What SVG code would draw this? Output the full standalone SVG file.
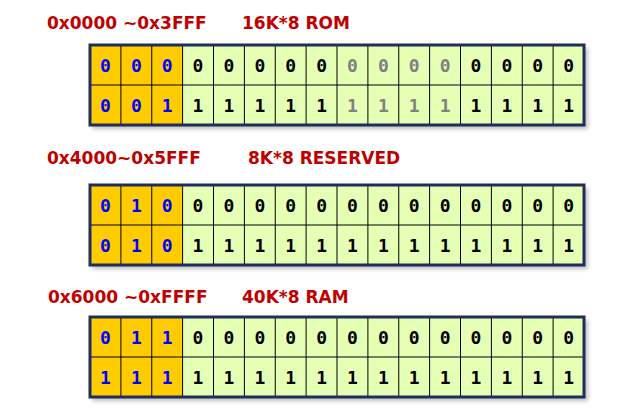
<svg xmlns="http://www.w3.org/2000/svg" width="622" height="417" viewBox="0 0 622 417">
<defs>
<style>
.lbl{font-family:"DejaVu Sans","Liberation Sans",sans-serif;font-weight:bold;font-size:17px;fill:#C00000}
.d{font-family:"DejaVu Sans Mono",monospace;font-weight:bold;font-size:18px;text-anchor:middle}
.b{fill:#0000FF}.k{fill:#000}.g{fill:#808080}
.hi{fill:#FFCC00}.lo{fill:#E5FFB5}
.grid{stroke:#000;stroke-width:1;fill:none}
.frame{fill:none;stroke:#1F2D5A;stroke-width:3}
.shadow{fill:#000;opacity:0.25}
</style>
<filter id="blur" x="-5%" y="-20%" width="110%" height="140%"><feGaussianBlur stdDeviation="2"/></filter>
</defs>
<rect width="622" height="417" fill="#fff"/>

<g id="t1label"><text class="lbl" x="47" y="29">0x0000 ~0x3FFF</text><text class="lbl" x="242" y="29">16K*8 ROM</text></g>
<g id="t2label"><text class="lbl" x="47" y="164">0x4000~0x5FFF</text><text class="lbl" x="248" y="164">8K*8 RESERVED</text></g>
<g id="t3label"><text class="lbl" x="48" y="303">0x6000 ~0xFFFF</text><text class="lbl" x="242" y="303">40K*8 RAM</text></g>

<g id="table1">
<rect class="shadow" x="92" y="48" width="496" height="81" filter="url(#blur)"/>
<rect class="hi" x="90" y="45" width="92.6" height="80"/>
<rect class="lo" x="182.6" y="45" width="401.4" height="80"/>
<path class="grid" d="M90 85H584M120.9 45V125M151.75 45V125M182.6 45V125M213.5 45V125M244.4 45V125M275.25 45V125M306.1 45V125M337 45V125M367.9 45V125M398.75 45V125M429.6 45V125M460.5 45V125M491.4 45V125M522.25 45V125M553.1 45V125"/>
<rect class="frame" x="90" y="45" width="494" height="80"/>
<g class="d">
<text class="b" x="105.4" y="72">0</text><text class="b" x="136.3" y="72">0</text><text class="b" x="167.2" y="72">0</text>
<text class="k" x="198" y="72">0</text><text class="k" x="228.9" y="72">0</text><text class="k" x="259.8" y="72">0</text><text class="k" x="290.7" y="72">0</text><text class="k" x="321.6" y="72">0</text>
<text class="g" x="352.4" y="72">0</text><text class="g" x="383.3" y="72">0</text><text class="g" x="414.2" y="72">0</text><text class="g" x="445.1" y="72">0</text>
<text class="k" x="476" y="72">0</text><text class="k" x="506.8" y="72">0</text><text class="k" x="537.7" y="72">0</text><text class="k" x="568.6" y="72">0</text>
<text class="b" x="105.4" y="112">0</text><text class="b" x="136.3" y="112">0</text><text class="b" x="167.2" y="112">1</text>
<text class="k" x="198" y="112">1</text><text class="k" x="228.9" y="112">1</text><text class="k" x="259.8" y="112">1</text><text class="k" x="290.7" y="112">1</text><text class="k" x="321.6" y="112">1</text>
<text class="g" x="352.4" y="112">1</text><text class="g" x="383.3" y="112">1</text><text class="g" x="414.2" y="112">1</text><text class="g" x="445.1" y="112">1</text>
<text class="k" x="476" y="112">1</text><text class="k" x="506.8" y="112">1</text><text class="k" x="537.7" y="112">1</text><text class="k" x="568.6" y="112">1</text>
</g>
</g>

<g id="table2">
<rect class="shadow" x="92" y="188" width="496" height="81" filter="url(#blur)"/>
<rect class="hi" x="90" y="185" width="92.6" height="80"/>
<rect class="lo" x="182.6" y="185" width="401.4" height="80"/>
<path class="grid" d="M90 225H584M120.9 185V265M151.75 185V265M182.6 185V265M213.5 185V265M244.4 185V265M275.25 185V265M306.1 185V265M337 185V265M367.9 185V265M398.75 185V265M429.6 185V265M460.5 185V265M491.4 185V265M522.25 185V265M553.1 185V265"/>
<rect class="frame" x="90" y="185" width="494" height="80"/>
<g class="d">
<text class="b" x="105.4" y="212">0</text><text class="b" x="136.3" y="212">1</text><text class="b" x="167.2" y="212">0</text>
<text class="k" x="198" y="212">0</text><text class="k" x="228.9" y="212">0</text><text class="k" x="259.8" y="212">0</text><text class="k" x="290.7" y="212">0</text><text class="k" x="321.6" y="212">0</text>
<text class="k" x="352.4" y="212">0</text><text class="k" x="383.3" y="212">0</text><text class="k" x="414.2" y="212">0</text><text class="k" x="445.1" y="212">0</text>
<text class="k" x="476" y="212">0</text><text class="k" x="506.8" y="212">0</text><text class="k" x="537.7" y="212">0</text><text class="k" x="568.6" y="212">0</text>
<text class="b" x="105.4" y="252">0</text><text class="b" x="136.3" y="252">1</text><text class="b" x="167.2" y="252">0</text>
<text class="k" x="198" y="252">1</text><text class="k" x="228.9" y="252">1</text><text class="k" x="259.8" y="252">1</text><text class="k" x="290.7" y="252">1</text><text class="k" x="321.6" y="252">1</text>
<text class="k" x="352.4" y="252">1</text><text class="k" x="383.3" y="252">1</text><text class="k" x="414.2" y="252">1</text><text class="k" x="445.1" y="252">1</text>
<text class="k" x="476" y="252">1</text><text class="k" x="506.8" y="252">1</text><text class="k" x="537.7" y="252">1</text><text class="k" x="568.6" y="252">1</text>
</g>
</g>

<g id="table3">
<rect class="shadow" x="92" y="320" width="496" height="81" filter="url(#blur)"/>
<rect class="hi" x="90" y="317" width="92.6" height="80"/>
<rect class="lo" x="182.6" y="317" width="401.4" height="80"/>
<path class="grid" d="M90 357H584M120.9 317V397M151.75 317V397M182.6 317V397M213.5 317V397M244.4 317V397M275.25 317V397M306.1 317V397M337 317V397M367.9 317V397M398.75 317V397M429.6 317V397M460.5 317V397M491.4 317V397M522.25 317V397M553.1 317V397"/>
<rect class="frame" x="90" y="317" width="494" height="80"/>
<g class="d">
<text class="b" x="105.4" y="344">0</text><text class="b" x="136.3" y="344">1</text><text class="b" x="167.2" y="344">1</text>
<text class="k" x="198" y="344">0</text><text class="k" x="228.9" y="344">0</text><text class="k" x="259.8" y="344">0</text><text class="k" x="290.7" y="344">0</text><text class="k" x="321.6" y="344">0</text>
<text class="k" x="352.4" y="344">0</text><text class="k" x="383.3" y="344">0</text><text class="k" x="414.2" y="344">0</text><text class="k" x="445.1" y="344">0</text>
<text class="k" x="476" y="344">0</text><text class="k" x="506.8" y="344">0</text><text class="k" x="537.7" y="344">0</text><text class="k" x="568.6" y="344">0</text>
<text class="b" x="105.4" y="384">1</text><text class="b" x="136.3" y="384">1</text><text class="b" x="167.2" y="384">1</text>
<text class="k" x="198" y="384">1</text><text class="k" x="228.9" y="384">1</text><text class="k" x="259.8" y="384">1</text><text class="k" x="290.7" y="384">1</text><text class="k" x="321.6" y="384">1</text>
<text class="k" x="352.4" y="384">1</text><text class="k" x="383.3" y="384">1</text><text class="k" x="414.2" y="384">1</text><text class="k" x="445.1" y="384">1</text>
<text class="k" x="476" y="384">1</text><text class="k" x="506.8" y="384">1</text><text class="k" x="537.7" y="384">1</text><text class="k" x="568.6" y="384">1</text>
</g>
</g>
</svg>
